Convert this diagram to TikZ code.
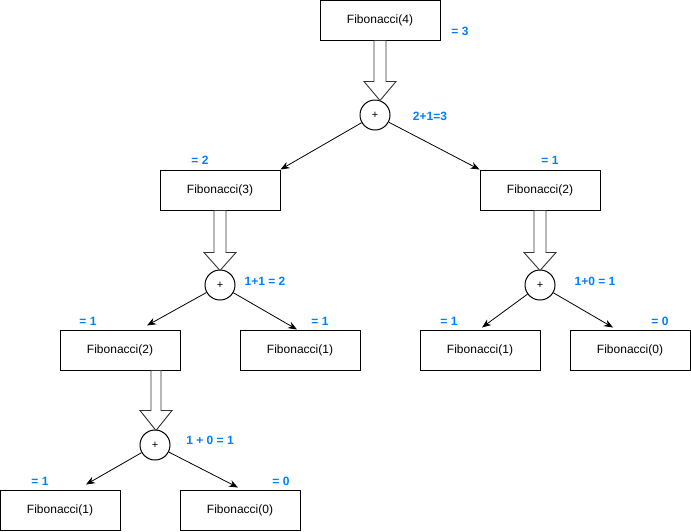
\documentclass[tikz,border=0pt]{standalone}
\usepackage{fontspec}
\setmainfont{Liberation Sans}
\usetikzlibrary{arrows.meta}
\definecolor{lblue}{HTML}{007FFF}
\tikzset{
  fib/.style={draw,line width=1pt,minimum width=120pt,minimum height=40pt,inner sep=0pt,font=\fontsize{12}{14}\selectfont},
  plus/.style={draw,circle,line width=1pt,minimum size=30pt,inner sep=0pt,font=\fontsize{11}{12}\selectfont},
  val/.style={text=lblue,font=\bfseries\fontsize{12}{14}\selectfont,inner sep=0pt},
  arr/.style={line width=0.8pt,-{Stealth[length=9pt,width=7pt]}},
  flex/.style={line width=0.9pt,draw=black!80,fill=white,line join=miter}
}
\begin{document}
\begin{tikzpicture}[x=1pt,y=-1pt]
\useasboundingbox (0,0) rectangle (691,531);
% boxes
\node[fib] (f4) at (380,20) {Fibonacci(4)};
\node[fib] (f3) at (220,190) {Fibonacci(3)};
\node[fib] (f2r) at (540,190) {Fibonacci(2)};
\node[fib] (f2l) at (120,350) {Fibonacci(2)};
\node[fib] (f1a) at (300,350) {Fibonacci(1)};
\node[fib] (f1b) at (480,350) {Fibonacci(1)};
\node[fib] (f0a) at (630,350) {Fibonacci(0)};
\node[fib] (f1c) at (60,510) {Fibonacci(1)};
\node[fib] (f0b) at (240,510) {Fibonacci(0)};
% sums
\node[plus] (p1) at (375,115) {+};
\node[plus] (p2) at (220,285) {+};
\node[plus] (p3) at (540,285) {+};
\node[plus] (p4) at (155,445) {+};
% hollow arrows
\draw[flex] ([xshift=-6pt]f4.south) -- ++(0,41) -- ++(-10,0) -- ++(16,19) -- ++(16,-19) -- ++(-10,0) -- ++(0,-41) -- cycle;
\draw[flex] ([xshift=-6pt]f3.south) -- ++(0,42) -- ++(-10,0) -- ++(16,18) -- ++(16,-18) -- ++(-10,0) -- ++(0,-42) -- cycle;
\draw[flex] ([xshift=-6pt]f2r.south) -- ++(0,42) -- ++(-10,0) -- ++(16,18) -- ++(16,-18) -- ++(-10,0) -- ++(0,-42) -- cycle;
\draw[flex] ([xshift=31pt]f2l.south) -- ++(0,40) -- ++(-11,0) -- ++(16,20) -- ++(16,-20) -- ++(-11,0) -- ++(0,-40) -- cycle;
% children
\draw[arr] (p1) -- (f3.north east);
\draw[arr] (p1) -- (f2r.north west);
\draw[arr] (p2) -- ([shift={(27,-4)}]f2l.north);
\draw[arr] (p2) -- ([xshift=-3pt]f1a.north);
\draw[arr] (p3) -- ([shift={(2,-2)}]f1b.north);
\draw[arr] (p3) -- ([shift={(-17,-2)}]f0a.north);
\draw[arr] (p4) -- ([shift={(26,-5)}]f1c.north);
\draw[arr] (p4) -- ([shift={(-2,-2)}]f0b.north);
% values
\node[val] (v4) at (460,31) {= 3};
\node[val] (s1) at (430,116) {2+1=3};
\node[val] (v3) at (200,160) {= 2};
\node[val] (v2r) at (550,160) {= 1};
\node[val] (s2) at (265,281) {1+1 = 2};
\node[val] (s3) at (595,281) {1+0 = 1};
\node[val] (v2l) at (88,321) {= 1};
\node[val] (v1a) at (320,321) {= 1};
\node[val] (v1b) at (449,321) {= 1};
\node[val] (v0a) at (660,321) {= 0};
\node[val] (s4) at (210,440) {1 + 0 = 1};
\node[val] (v1c) at (40,481) {= 1};
\node[val] (v0b) at (281,481) {= 0};
\end{tikzpicture}
\end{document}
